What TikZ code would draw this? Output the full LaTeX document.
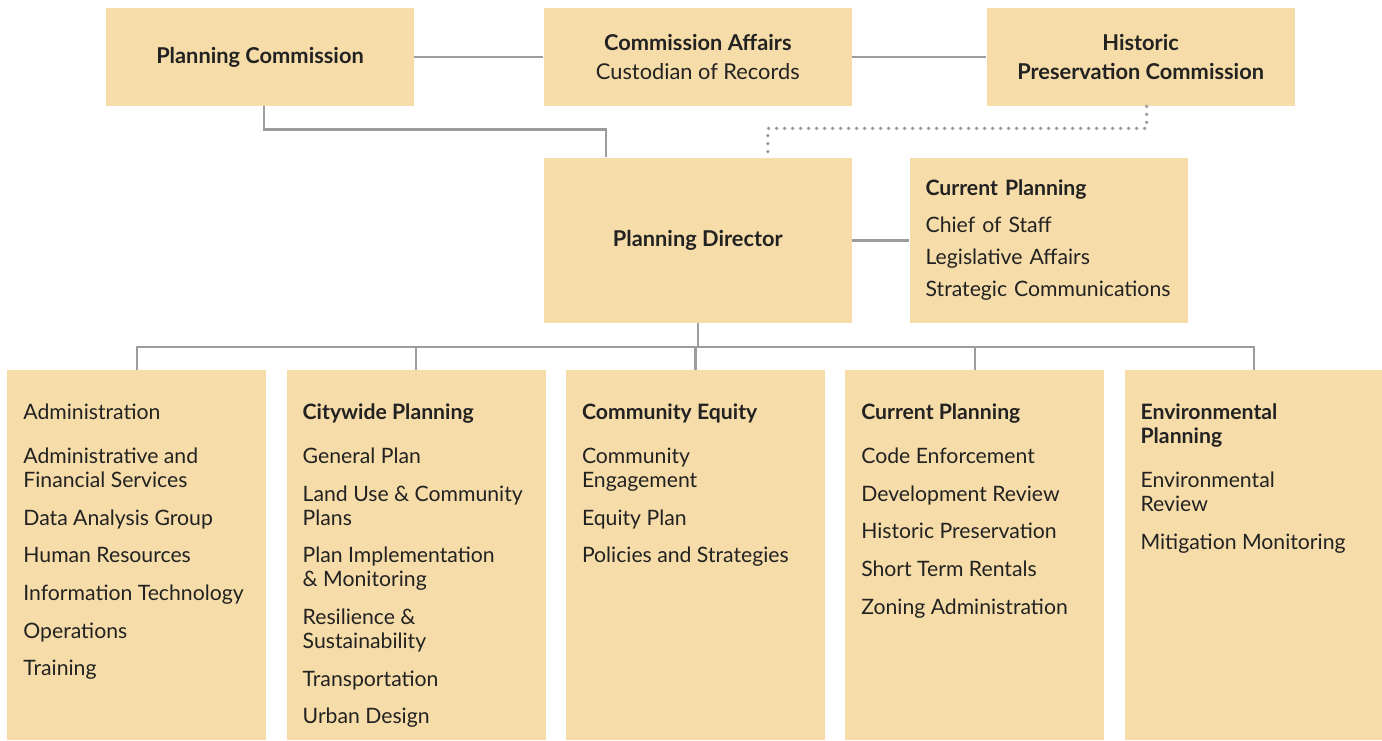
\documentclass[tikz,border=0pt]{standalone}
\usepackage{fontspec}
\setmainfont{Lato}
\usepackage{tikz}
\usetikzlibrary{positioning}
\definecolor{orgfill}{HTML}{F6DCA8}
\definecolor{orgline}{HTML}{9C9C9C}
\definecolor{orgtext}{HTML}{222222}
\hyphenpenalty=10000
\exhyphenpenalty=10000

% body of one division column: fixed height, text from the top
\newcommand{\unitbody}[1]{%
  \begin{minipage}[t][185pt][t]{129.5pt}\raggedright\leftskip=8pt
  \fontsize{10.6}{12}\selectfont\vspace*{16.8pt}#1\end{minipage}}

\begin{document}
\begin{tikzpicture}[
  x=0.5pt, y=-0.5pt,
  every node/.style={text=orgtext},
  topbox/.style={rectangle, fill=orgfill, inner sep=0pt, minimum width=154pt,
    minimum height=49pt, align=center, font=\fontsize{10.9}{14.5}\selectfont},
  headbox/.style={topbox, minimum height=82.5pt},
  staffbox/.style={rectangle, fill=orgfill, inner xsep=8pt, inner ysep=0pt,
    text width=123pt, minimum height=82.5pt, align=left, font=\fontsize{10.6}{12}\selectfont},
  unit/.style={rectangle, fill=orgfill, inner sep=0pt},
  link/.style={draw=orgline, line width=1.25pt},
  dotlink/.style={draw=orgline, line width=1.9pt, line cap=round, dash pattern=on 0pt off 4pt}
]
\useasboundingbox (0,0) rectangle (1382,740);

\node[topbox] (pc) at (260,57) {\textbf{Planning Commission}};
\node[topbox, right=64.5pt of pc] (ca) {\textbf{Commission Affairs}\\Custodian of Records};
\node[topbox, right=67pt of ca] (hpc) {\textbf{Historic}\\\textbf{Preservation Commission}};
\node[headbox, below=25.5pt of ca] (pd) {\textbf{Planning Director}};
\node[staffbox, right=28.5pt of pd] (staff) {\textbf{Current Planning}\\[6.5pt]
  Chief of Staff\\[4pt]Legislative Affairs\\[4pt]Strategic Communications};

\node[unit, anchor=north west] (admin) at (7,370) {\unitbody{Administration\\[10pt]
  Administrative and\\Financial Services\\[6.8pt]
  Data Analysis Group\\[6.8pt]
  Human Resources\\[6.8pt]
  Information Technology\\[6.8pt]
  Operations\\[6.8pt]
  Training}};
\node[unit, right=9.75pt of admin] (city) {\unitbody{\textbf{Citywide Planning}\\[10pt]
  General Plan\\[6.8pt]
  Land Use \& Community\\Plans\\[6.8pt]
  Plan Implementation\\\& Monitoring\\[6.8pt]
  Resilience \&\\Sustainability\\[6.8pt]
  Transportation\\[6.8pt]
  Urban Design}};
\node[unit, right=9.75pt of city] (equity) {\unitbody{\textbf{Community Equity}\\[10pt]
  Community\\Engagement\\[6.8pt]
  Equity Plan\\[6.8pt]
  Policies and Strategies}};
\node[unit, right=9.75pt of equity] (current) {\unitbody{\textbf{Current Planning}\\[10pt]
  Code Enforcement\\[6.8pt]
  Development Review\\[6.8pt]
  Historic Preservation\\[6.8pt]
  Short Term Rentals\\[6.8pt]
  Zoning Administration}};
\node[unit, right=9.75pt of current] (env) {\unitbody{\textbf{Environmental}\\\textbf{Planning}\\[10pt]
  Environmental\\Review\\[6.8pt]
  Mitigation Monitoring}};

% commissions and director
\draw[link] (pc) -- (ca);
\draw[link] (ca) -- (hpc);
\draw[link] (pd) -- (staff);
\draw[link] ([xshift=2pt]pc.south) -- ++(0,23) -| ([xshift=-46pt]pd.north);
\draw[dotlink] ([xshift=3pt]hpc.south) -- ++(0,22) -| ([xshift=35pt]pd.north);

% divisions
\coordinate (bus) at ([yshift=-12pt]pd.south);
\draw[link] (pd.south) -- (bus);
\draw[link] (admin.north) |- (env.north |- bus) -- (env.north);
\foreach \u in {city,equity,current}
  \draw[link] (\u.north |- bus) -- (\u.north);
\end{tikzpicture}
\end{document}
